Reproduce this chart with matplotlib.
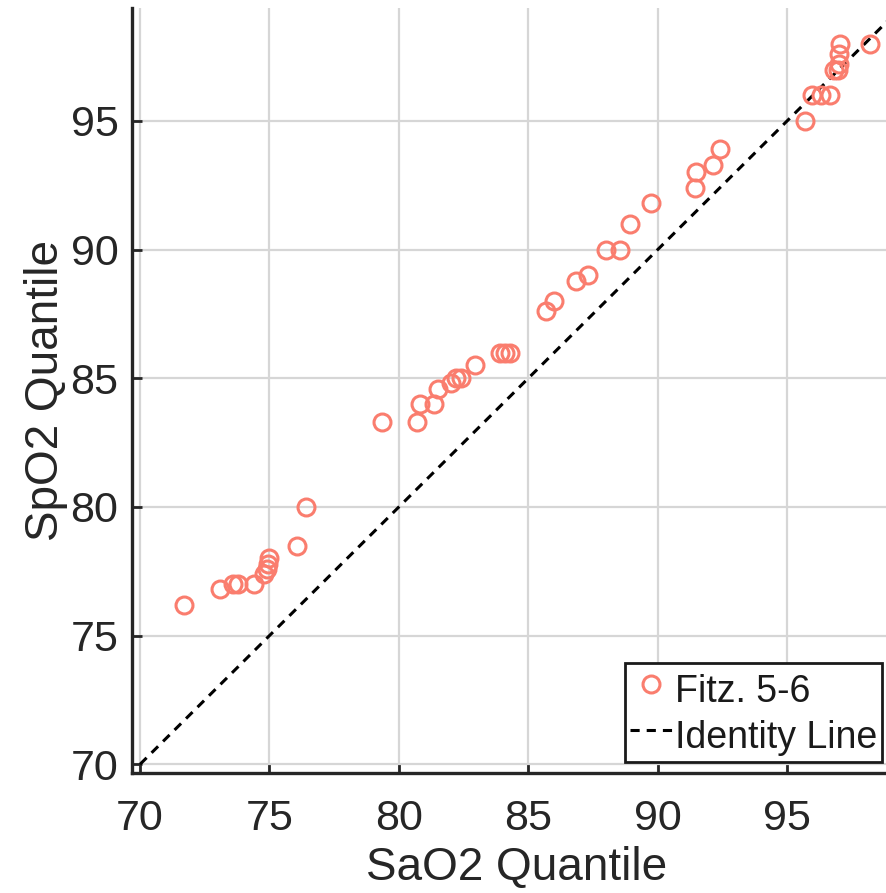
import matplotlib
matplotlib.use("Agg")
import matplotlib.pyplot as plt

plt.rcParams['font.family'] = ['Liberation Sans', 'DejaVu Sans']

# Quantile pairs (SaO2 vs SpO2), Fitzpatrick 5-6 group
sao2_q = [71.7, 73.1, 73.6, 73.8, 74.4, 74.8, 74.9, 74.95, 75.0, 76.05,
          76.4, 79.35, 80.7, 80.8, 81.35, 81.5, 82.0, 82.2, 82.4, 82.95,
          83.9, 84.1, 84.3, 85.7, 86.0, 86.85, 87.3, 88.0, 88.55, 88.95,
          89.75, 91.45, 91.5, 92.15, 92.4, 95.7, 95.95, 96.3, 96.65, 96.8,
          96.95, 97.0, 97.0, 97.05, 98.2]
spo2_q = [76.2, 76.8, 77.0, 77.0, 77.0, 77.4, 77.6, 77.8, 78.0, 78.5,
          80.0, 83.3, 83.3, 84.0, 84.0, 84.6, 84.8, 85.0, 85.0, 85.5,
          86.0, 86.0, 86.0, 87.6, 88.0, 88.8, 89.0, 90.0, 90.0, 91.0,
          91.8, 92.4, 93.0, 93.3, 93.9, 95.0, 96.0, 96.0, 96.0, 97.0,
          97.0, 97.2, 97.6, 98.0, 98.0]
identity = [70, 100]
ticks = [70, 75, 80, 85, 90, 95]

text_color = '#262626'
marker_color = '#FA7D6E'

fig = plt.figure(figsize=(8.87, 8.93), dpi=100)
ax = fig.add_axes([0.1492, 0.1347, 0.8665, 0.8563])

ax.plot(sao2_q, spo2_q, linestyle='none', marker='o', markersize=12.2,
        markerfacecolor='none', markeredgecolor=marker_color,
        markeredgewidth=2.2, label='Fitz. 5-6', zorder=3)
ax.plot(identity, identity, color='black', linewidth=2.2,
        linestyle=(0, (3, 2.3)), label='Identity Line', zorder=2)

ax.set_xlim(69.7, 99.4)
ax.set_ylim(69.67, 99.39)
ax.set_xticks(ticks)
ax.set_yticks(ticks)

ax.grid(True, color='#d6d6d6', linewidth=1.6)
ax.set_axisbelow(True)

for side in ('top', 'right'):
    ax.spines[side].set_visible(False)
for side in ('left', 'bottom'):
    ax.spines[side].set_linewidth(2.4)
    ax.spines[side].set_color(text_color)

ax.tick_params(axis='both', direction='in', length=7, width=2.0,
               color=text_color, labelcolor=text_color, labelsize=31)
ax.tick_params(axis='x', pad=19)
ax.tick_params(axis='y', pad=10)

ax.set_xlabel('SaO2 Quantile', fontsize=33, color=text_color, labelpad=5)
ax.set_ylabel('SpO2 Quantile', fontsize=33, color=text_color, labelpad=1.5)

leg = ax.legend(loc='upper right', bbox_to_anchor=(0.994, 0.2579),
                bbox_transform=fig.transFigure, fontsize=27, numpoints=1,
                handlelength=1.17, handleheight=1.5, handletextpad=0.05,
                borderpad=0.11, labelspacing=0.0, borderaxespad=0.0,
                fancybox=False, framealpha=1.0, edgecolor='#1a1a1a')
leg.get_frame().set_linewidth(2.0)
for t in leg.get_texts():
    t.set_color('#1a1a1a')

fig.savefig('out.png', dpi=100)
